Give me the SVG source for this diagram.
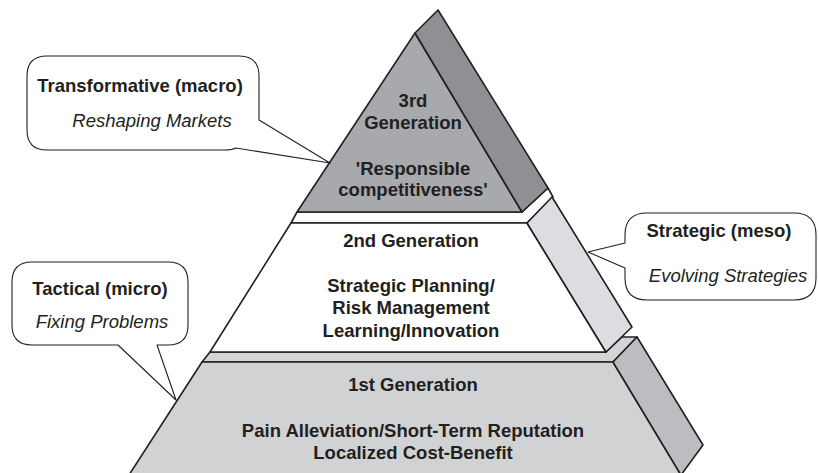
<svg xmlns="http://www.w3.org/2000/svg" width="818" height="473" viewBox="0 0 818 473">
<style>
.edge{stroke:#231f20;stroke-width:1.6;stroke-linejoin:round}
.bub{fill:#fff;stroke:#231f20;stroke-width:1.1;stroke-linejoin:round}
.t{font-family:"Liberation Sans",Arial,sans-serif;font-size:18.5px;fill:#231f20;text-anchor:middle}
.b{font-weight:bold}
.i{font-style:italic}
</style>
<rect width="818" height="473" fill="#fff"/>
<g id="gen1">
<polygon class="edge" fill="#d3d4d6" points="202,362 613,362 637,337 622,337 606,352 210,352"/>
<polygon class="edge" fill="#d1d2d4" points="202,362 613,362 681,475 129,475"/>
<polygon class="edge" fill="#bcbdc0" points="613,362 637,337 703,445 681,475"/>
<text class="t b" x="413" y="391">1st Generation</text>
<text class="t b" x="413" y="437">Pain Alleviation/Short-Term Reputation</text>
<text class="t b" x="413" y="459">Localized Cost-Benefit</text>
</g>
<g id="gen2">
<polygon class="edge" fill="#fff" points="297,212 291,223 527,223 553,197 548,188 522,212"/>
<polygon class="edge" fill="#fff" points="291,223 527,223 606,352 210,352"/>
<polygon class="edge" fill="#dcdde0" points="527,223 552,197 632,327 606,352"/>
<text class="t b" x="411" y="247">2nd Generation</text>
<text class="t b" x="411" y="292">Strategic Planning/</text>
<text class="t b" x="411" y="314">Risk Management</text>
<text class="t b" x="411" y="337">Learning/Innovation</text>
</g>
<g id="gen3">
<polygon class="edge" fill="#a7a9ac" points="415,33 522,212 297,212"/>
<polygon class="edge" fill="#8f9093" points="415,33 438,10 548,188 522,212"/>
<text class="t b" x="413" y="107">3rd</text>
<text class="t b" x="413" y="129">Generation</text>
<text class="t b" x="413" y="175">'Responsible</text>
<text class="t b" x="413" y="196">competitiveness'</text>
</g>
<g id="connectors">
<g id="bubble-macro">
<path class="bub" d="M47,56 H239 Q259,56 259,76 V120 L330,163 L236,148 Q232,150 225,150 H47 Q27,150 27,130 V76 Q27,56 47,56 Z"/>
<text class="t b" x="140" y="92">Transformative (macro)</text>
<text class="t i" x="152" y="127">Reshaping Markets</text>
</g>
<g id="bubble-meso">
<path class="bub" d="M647,213 H794 Q816,213 816,235 V278 Q816,300 794,300 H647 Q625,300 625,278 V268 L588,252 L625,243 V235 Q625,213 647,213 Z"/>
<text class="t b" x="719" y="237">Strategic (meso)</text>
<text class="t i" x="728" y="282">Evolving Strategies</text>
</g>
<g id="bubble-micro">
<path class="bub" d="M32,262 H168 Q188,262 188,282 V325 Q188,345 168,345 H157 L176,400 L118,345 H32 Q12,345 12,325 V282 Q12,262 32,262 Z"/>
<text class="t b" x="100" y="295">Tactical (micro)</text>
<text class="t i" x="102" y="328">Fixing Problems</text>
</g>
</g>
</svg>
